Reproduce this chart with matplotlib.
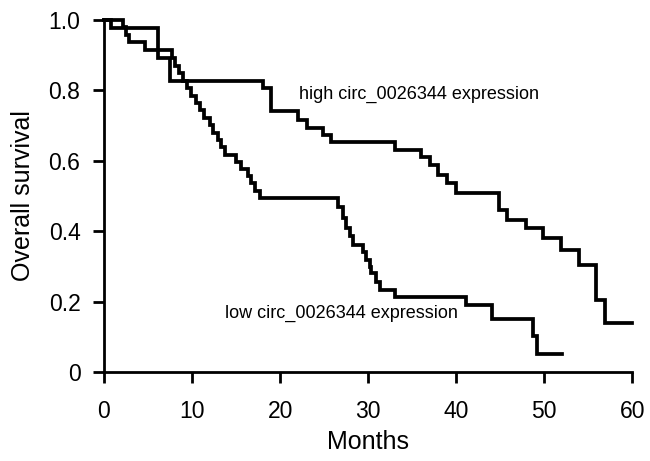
import numpy as np
import matplotlib
matplotlib.use("Agg")
import matplotlib.pyplot as plt

plt.rcParams['font.family'] = ['Liberation Sans', 'DejaVu Sans']

# Kaplan-Meier steps (time in months, survival after the event)
high_time = [0, 0.8, 6.1, 7.5, 18.1, 19.0, 22.0, 23.0, 24.9, 25.8, 33.0, 36.0,
             37.0, 37.9, 39.0, 40.0, 44.9, 45.8, 47.9, 49.8, 51.9, 54.0, 55.9, 56.9]
high_surv = [1.0, 0.978, 0.891, 0.827, 0.807, 0.741, 0.716, 0.692, 0.673, 0.654, 0.631, 0.612,
             0.588, 0.560, 0.536, 0.508, 0.460, 0.432, 0.408, 0.380, 0.347, 0.304, 0.205, 0.138]
high_end = 60.0

low_time = [0, 2.2, 2.5, 2.8, 4.6, 7.7, 8.1, 8.5, 9.0, 9.4, 9.9, 10.4, 10.9, 11.3,
            12.0, 12.4, 13.0, 13.3, 13.7, 15.0, 15.6, 16.4, 16.7, 17.1, 17.7,
            26.6, 27.1, 27.5, 27.9, 28.3, 29.4, 29.8, 30.2, 30.3, 30.9, 31.3, 33.0,
            41.1, 44.1, 48.7, 49.2]
low_surv = [1.0, 0.979, 0.958, 0.937, 0.915, 0.892, 0.870, 0.849, 0.828, 0.806, 0.785, 0.764, 0.743, 0.722,
            0.701, 0.680, 0.659, 0.638, 0.617, 0.597, 0.578, 0.557, 0.536, 0.515, 0.493,
            0.470, 0.437, 0.408, 0.385, 0.361, 0.342, 0.318, 0.299, 0.280, 0.257, 0.233, 0.214,
            0.190, 0.152, 0.102, 0.051]
low_end = 52.0

x_ticks = [0, 10, 20, 30, 40, 50, 60]
y_ticks = [0, 0.2, 0.4, 0.6, 0.8, 1.0]
y_tick_labels = ["0", "0.2", "0.4", "0.6", "0.8", "1.0"]

fig = plt.figure(figsize=(6.5, 4.61), dpi=100)
ax = fig.add_axes([0.16, 0.193, 0.8128, 0.7636])

for t, s, end in [(high_time, high_surv, high_end), (low_time, low_surv, low_end)]:
    ax.step(np.append(t, end), np.append(s, s[-1]), where='post',
            color='black', linewidth=2.7, clip_on=False, solid_joinstyle='miter')

ax.text(22.2, 0.79, "high circ_0026344 expression", fontsize=13, va='center', ha='left')
ax.text(13.7, 0.167, "low circ_0026344 expression", fontsize=13, va='center', ha='left')

ax.set_xlim(0, 60)
ax.set_ylim(0, 1.0)
ax.set_xticks(x_ticks)
ax.set_yticks(y_ticks)
ax.set_yticklabels(y_tick_labels)
ax.spines['top'].set_visible(False)
ax.spines['right'].set_visible(False)
for sp in ['left', 'bottom']:
    ax.spines[sp].set_linewidth(2.0)
ax.tick_params(direction='out', length=8, width=2.0, labelsize=16.5)
ax.tick_params(axis='x', pad=12)
ax.tick_params(axis='y', pad=9)
ax.set_xlabel("Months", fontsize=18, labelpad=5)
ax.set_ylabel("Overall survival", fontsize=18, labelpad=10)

fig.savefig("out.png", dpi=100)
